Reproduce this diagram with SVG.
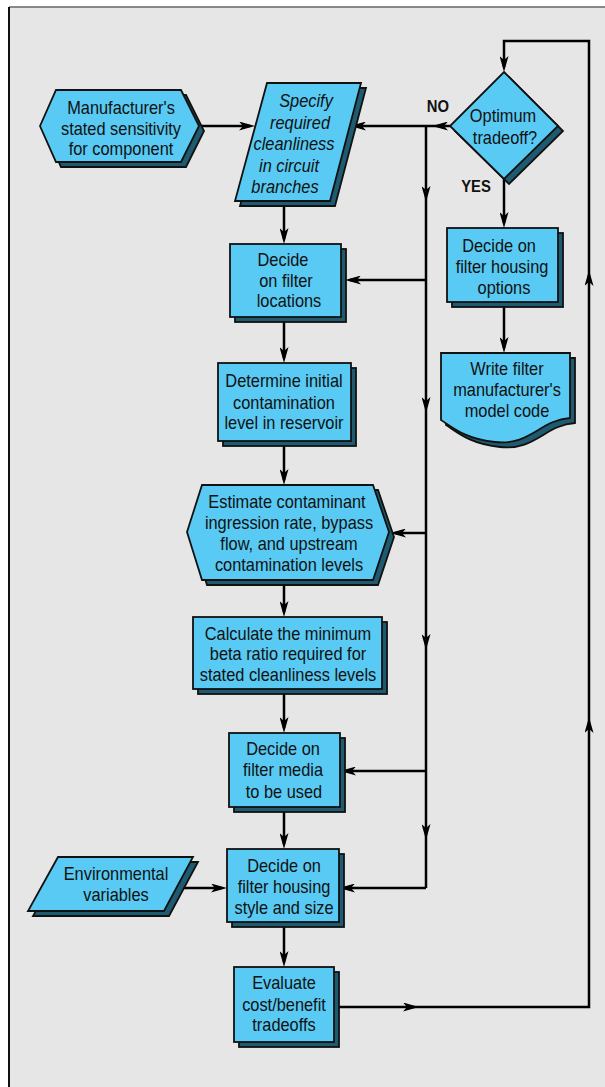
<svg xmlns="http://www.w3.org/2000/svg" width="605" height="1087" viewBox="0 0 605 1087">
<defs>
<style>
.bg{fill:#e6e6e6}
.front{fill:#58caf3;stroke:#111;stroke-width:1.8;stroke-linejoin:miter}
.shadow{fill:#1e5b70;stroke:#111;stroke-width:1.8}
.t{font-family:"Liberation Sans",Arial,sans-serif;font-size:18px;fill:#111;text-anchor:middle}
.it{font-style:italic}
.lbl{font-family:"Liberation Sans",Arial,sans-serif;font-size:16.5px;font-weight:bold;fill:#111;text-anchor:middle}
.c{fill:none;stroke:#000;stroke-width:2.5}
.a{marker-end:url(#arr)}
</style>
<marker id="arr" viewBox="0 0 16 9" refX="11" refY="4.5" markerWidth="16" markerHeight="9" markerUnits="userSpaceOnUse" orient="auto">
<path d="M0,0 L16,4.5 L0,9 L4,4.5 Z" fill="#000"/>
</marker>
</defs>
<rect x="0" y="0" width="605" height="1087" fill="#fff"/>
<rect class="bg" x="9" y="7" width="596" height="1080"/>
<line x1="9" y1="7" x2="605" y2="7" stroke="#666" stroke-width="1.5"/>
<line x1="9" y1="7" x2="9" y2="1087" stroke="#111" stroke-width="2"/>

<g id="connectors">
<path class="c a" d="M199,126 H250"/>
<path class="c a" d="M450,126 H437"/>
<path class="c a" d="M437,126 H355"/>
<path class="c a" d="M426,126 V197"/>
<path class="c a" d="M426,197 V408"/>
<path class="c a" d="M426,408 V645"/>
<path class="c a" d="M426,645 V835"/>
<path class="c" d="M426,835 V888"/>
<path class="c a" d="M426,280 H350"/>
<path class="c a" d="M426,533 H395"/>
<path class="c a" d="M426,771 H345"/>
<path class="c a" d="M426,888 H344"/>
<path class="c a" d="M284,201 V239"/>
<path class="c a" d="M284,317 V358"/>
<path class="c a" d="M284,441 V480"/>
<path class="c a" d="M284,580 V612"/>
<path class="c a" d="M284,689 V728"/>
<path class="c a" d="M284,807 V844"/>
<path class="c a" d="M284,922 V962"/>
<path class="c a" d="M180,888 H222"/>
<path class="c a" d="M334,1007 H414"/>
<path class="c a" d="M414,1007 H589 V722"/>
<path class="c a" d="M589,722 V275"/>
<path class="c a" d="M589,275 V41 H504 V67"/>
<path class="c a" d="M504,179 V223"/>
<path class="c a" d="M504,302 V348"/>
</g>

<g id="manufacturer">
<polygon class="shadow" points="45,131 61,95 186,95 204,131 186,167 61,167"/>
<polygon class="front" points="40,126 56,90 181,90 199,126 181,162 56,162"/>
<text class="t" transform="translate(121,114) scale(0.91,1)">Manufacturer's</text>
<text class="t" transform="translate(121,135) scale(0.91,1)">stated sensitivity</text>
<text class="t" transform="translate(121,155) scale(0.91,1)">for component</text>
</g>

<g id="specify">
<polygon class="shadow" points="272,88 366,88 335,206 240,206"/>
<polygon class="front" points="267,83 361,83 330,201 235,201"/>
<text class="t it" transform="translate(306,107) scale(0.91,1)">Specify</text>
<text class="t it" transform="translate(300,129) scale(0.91,1)">required</text>
<text class="t it" transform="translate(294,150) scale(0.91,1)">cleanliness</text>
<text class="t it" transform="translate(289,172) scale(0.91,1)">in circuit</text>
<text class="t it" transform="translate(285,193) scale(0.91,1)">branches</text>
</g>

<g id="optimum">
<polygon class="shadow" points="509,77 563,131 509,184 455,131"/>
<polygon class="front" points="504,72 558,126 504,179 450,126"/>
<text class="t" transform="translate(503,122) scale(0.91,1)">Optimum</text>
<text class="t" transform="translate(505,144) scale(0.91,1)">tradeoff?</text>
</g>
<text class="lbl" transform="translate(438,112) scale(0.9,1)">NO</text>
<text class="lbl" transform="translate(476,192) scale(0.9,1)">YES</text>

<g id="housing-options">
<rect class="shadow" x="452" y="233" width="111" height="74"/>
<rect class="front" x="447" y="228" width="111" height="74"/>
<text class="t" transform="translate(499,252) scale(0.91,1)">Decide on</text>
<text class="t" transform="translate(502,273) scale(0.91,1)">filter housing</text>
<text class="t" transform="translate(504,294) scale(0.91,1)">options</text>
</g>

<g id="model-code">
<path class="shadow" d="M446,358 H575 V423 C545,425 535,451 500,447 C470,444 457,432 446,425 Z"/>
<path class="front" d="M441,353 H570 V418 C540,420 530,446 495,442 C465,439 452,427 441,420 Z"/>
<text class="t" transform="translate(507,375) scale(0.91,1)">Write filter</text>
<text class="t" transform="translate(507,396) scale(0.91,1)">manufacturer's</text>
<text class="t" transform="translate(507,417) scale(0.91,1)">model code</text>
</g>

<g id="locations">
<rect class="shadow" x="235" y="249" width="111" height="73"/>
<rect class="front" x="230" y="244" width="111" height="73"/>
<text class="t" transform="translate(283,266) scale(0.91,1)">Decide</text>
<text class="t" transform="translate(286,287) scale(0.91,1)">on filter</text>
<text class="t" transform="translate(289,307) scale(0.91,1)">locations</text>
</g>

<g id="initial">
<rect class="shadow" x="223" y="368" width="133" height="78"/>
<rect class="front" x="218" y="363" width="133" height="78"/>
<text class="t" transform="translate(284,387) scale(0.91,1)">Determine initial</text>
<text class="t" transform="translate(284,409) scale(0.91,1)">contamination</text>
<text class="t" transform="translate(284,429) scale(0.91,1)">level in reservoir</text>
</g>

<g id="estimate">
<polygon class="shadow" points="192,537 207,490 378,490 394,537 378,585 207,585"/>
<polygon class="front" points="187,532 202,485 373,485 389,532 373,580 202,580"/>
<text class="t" transform="translate(287,508) scale(0.91,1)">Estimate contaminant</text>
<text class="t" transform="translate(289,529) scale(0.91,1)">ingression rate, bypass</text>
<text class="t" transform="translate(289,550) scale(0.91,1)">flow, and upstream</text>
<text class="t" transform="translate(289,571) scale(0.91,1)">contamination levels</text>
</g>

<g id="beta">
<rect class="shadow" x="198" y="622" width="189" height="72"/>
<rect class="front" x="193" y="617" width="189" height="72"/>
<text class="t" transform="translate(288,640) scale(0.91,1)">Calculate the minimum</text>
<text class="t" transform="translate(288,660) scale(0.91,1)">beta ratio required for</text>
<text class="t" transform="translate(288,681) scale(0.91,1)">stated cleanliness levels</text>
</g>

<g id="media">
<rect class="shadow" x="234" y="738" width="111" height="74"/>
<rect class="front" x="229" y="733" width="111" height="74"/>
<text class="t" transform="translate(283,755) scale(0.91,1)">Decide on</text>
<text class="t" transform="translate(283,776) scale(0.91,1)">filter media</text>
<text class="t" transform="translate(284,798) scale(0.91,1)">to be used</text>
</g>

<g id="environmental">
<polygon class="shadow" points="63,862 198,862 169,916 33,916"/>
<polygon class="front" points="58,857 193,857 164,911 28,911"/>
<text class="t" transform="translate(116,880) scale(0.91,1)">Environmental</text>
<text class="t" transform="translate(116,901) scale(0.91,1)">variables</text>
</g>

<g id="housing-style">
<rect class="shadow" x="232" y="854" width="112" height="73"/>
<rect class="front" x="227" y="849" width="112" height="73"/>
<text class="t" transform="translate(284,872) scale(0.91,1)">Decide on</text>
<text class="t" transform="translate(284,893) scale(0.91,1)">filter housing</text>
<text class="t" transform="translate(284,914) scale(0.91,1)">style and size</text>
</g>

<g id="evaluate">
<rect class="shadow" x="239" y="972" width="100" height="75"/>
<rect class="front" x="234" y="967" width="100" height="75"/>
<text class="t" transform="translate(284,989) scale(0.91,1)">Evaluate</text>
<text class="t" transform="translate(284,1011) scale(0.91,1)">cost/benefit</text>
<text class="t" transform="translate(284,1031) scale(0.91,1)">tradeoffs</text>
</g>
</svg>
